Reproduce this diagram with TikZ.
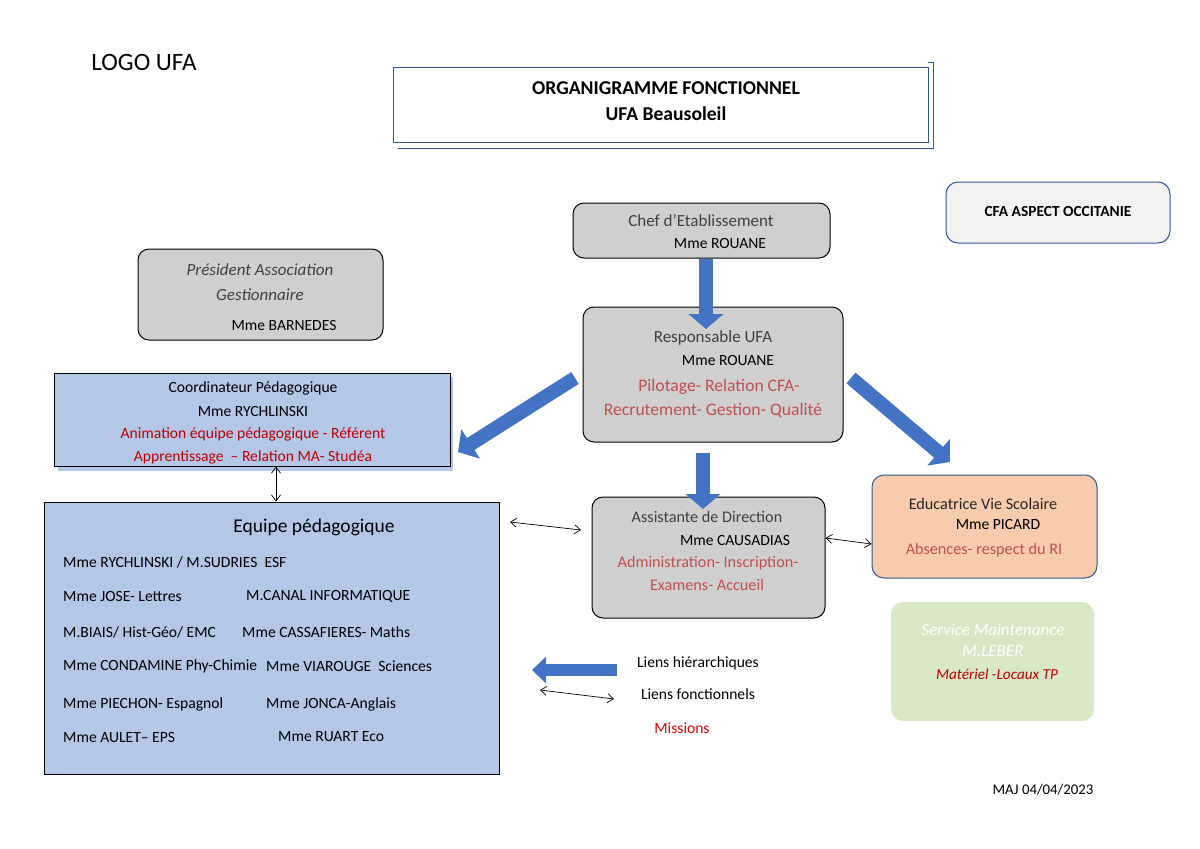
\documentclass[tikz,border=0pt]{standalone}
\usepackage{fontspec}
\setmainfont{Carlito}
\usetikzlibrary{arrows.meta}
\definecolor{boxgray}{HTML}{D0CFD0}
\definecolor{boxblue}{HTML}{B4C7E7}
\definecolor{arrblue}{HTML}{4472C4}
\definecolor{edgeblue}{HTML}{2F5597}
\definecolor{headgray}{HTML}{404040}
\definecolor{fadered}{HTML}{C0504D}
\definecolor{darkred}{HTML}{C00000}
\definecolor{peach}{HTML}{F8CBAD}
\definecolor{palegreen}{HTML}{D8E7C5}
\definecolor{palegray}{HTML}{F2F2F2}
\tikzset{
  graybox/.style={draw=black, line width=1pt, fill=boxgray, rounded corners=11pt, inner sep=0pt},
  bluebox/.style={draw=black, line width=1pt, fill=boxblue, inner sep=0pt},
  txt/.style={inner sep=0pt, anchor=center, font=\fontsize{15.6}{18}\selectfont},
  head/.style={txt, text=headgray, font=\fontsize{17}{20}\selectfont},
  mission/.style={txt, text=fadered, font=\fontsize{17.6}{21}\selectfont},
  redline/.style={txt, text=darkred},
  row/.style={txt, anchor=west},
  blockarrow/.style={draw=arrblue, line width=14pt, -{Triangle[length=15pt,width=34pt]}},
  thinarrow/.style={draw=black, line width=0.7pt, {Straight Barb[length=6pt,width=9pt]}-{Straight Barb[length=6pt,width=9pt]}},
}
\begin{document}
\begin{tikzpicture}[x=1pt,y=-1pt]
\useasboundingbox (0,0) rectangle (1200,849);
% logo
\node[txt, font=\fontsize{25}{29}\selectfont] (logo) at (144,62) {LOGO UFA};
% title
\draw[edgeblue, line width=0.8pt] (398,148) -- (933,148) -- (933,62) -- (928,62);
\node[draw=edgeblue, line width=0.8pt, fill=white, minimum width=535pt, minimum height=75pt, inner sep=0pt] (title) at (660.5,104.5) {};
\node[txt, font=\bfseries\fontsize{19.6}{23}\selectfont] (t1) at (666,88) {ORGANIGRAMME FONCTIONNEL};
\node[txt, font=\bfseries\fontsize{19.6}{23}\selectfont] (t2) at (666,114) {UFA Beausoleil};
% CFA aspect
\node[draw=edgeblue, line width=1pt, fill=palegray, rounded corners=12pt, minimum width=224pt, minimum height=61pt, inner sep=0pt] (cfa) at (1058,212.5) {};
\node[txt, font=\bfseries\fontsize{15.4}{18}\selectfont] (cfat) at (1058,211) {CFA ASPECT OCCITANIE};
% chef
\node[graybox, minimum width=257pt, minimum height=55pt] (chef) at (701.5,230.5) {};
\node[head] (chef1) at (701,221) {Chef d’Etablissement};
\node[txt] (chef2) at (720,243) {Mme ROUANE};
% president
\node[graybox, minimum width=245pt, minimum height=91pt] (pres) at (260.5,294.5) {};
\node[head, font=\itshape\fontsize{17}{20}\selectfont] (pres1) at (260,270) {Président Association};
\node[head, font=\itshape\fontsize{17}{20}\selectfont] (pres2) at (260,295) {Gestionnaire};
\node[txt] (pres3) at (284,325) {Mme BARNEDES};
% responsable
\node[graybox, minimum width=260pt, minimum height=135pt] (resp) at (713,374.5) {};
\node[head] (resp1) at (713,338) {Responsable UFA};
\node[txt] (resp2) at (728,360) {Mme ROUANE};
\node[mission] (resp3) at (719,387) {Pilotage- Relation CFA-};
\node[mission] (resp4) at (713,411) {Recrutement- Gestion- Qualité};
% coordinateur
\fill[boxblue] (58,377) rectangle (453,471);
\node[bluebox, minimum width=396pt, minimum height=93pt] (coord) at (252,419.5) {};
\node[txt] (coord1) at (253,388) {Coordinateur Pédagogique};
\node[txt] (coord2) at (253,411) {Mme RYCHLINSKI};
\node[redline] (coord3) at (253,434) {Animation équipe pédagogique - Référent};
\node[redline] (coord4) at (253,457) {Apprentissage\ \ – Relation MA- Studéa};
% equipe
\node[bluebox, minimum width=455pt, minimum height=272pt] (equipe) at (271.5,638) {};
\node[txt, font=\fontsize{19.5}{23}\selectfont] (eq0) at (314,527) {Equipe pédagogique};
\node[row] (eq1) at (63,562) {Mme RYCHLINSKI / M.SUDRIES\ \ ESF};
\node[row] (eq2a) at (63,596) {Mme JOSE- Lettres};
\node[row] (eq2b) at (246,596) {M.CANAL INFORMATIQUE};
\node[row] (eq3a) at (63,632) {M.BIAIS/ Hist-Géo/ EMC};
\node[row] (eq3b) at (242,632) {Mme CASSAFIERES- Maths};
\node[row] (eq4a) at (63,666) {Mme CONDAMINE Phy-Chimie};
\node[row] (eq4b) at (266,666) {Mme VIAROUGE\ \ Sciences};
\node[row] (eq5a) at (63,704) {Mme PIECHON- Espagnol};
\node[row] (eq5b) at (266,704) {Mme JONCA-Anglais};
\node[row] (eq6a) at (63,737) {Mme AULET– EPS};
\node[row] (eq6b) at (278,737) {Mme RUART Eco};
% assistante
\node[graybox, minimum width=233pt, minimum height=121pt] (assist) at (708.5,557.5) {};
\node[txt, text=headgray, font=\fontsize{16.2}{19}\selectfont] (as1) at (707,517) {Assistante de Direction};
\node[txt] (as2) at (735,540) {Mme CAUSADIAS};
\node[mission, font=\fontsize{16.2}{19}\selectfont] (as3) at (708,563) {Administration- Inscription-};
\node[mission, font=\fontsize{16.2}{19}\selectfont] (as4) at (707,585) {Examens- Accueil};
% educatrice
\node[draw=edgeblue, line width=1pt, fill=peach, rounded corners=12pt, minimum width=225pt, minimum height=103pt, inner sep=0pt] (educ) at (984.5,526.5) {};
\node[txt, text=black!85, font=\fontsize{16.2}{19}\selectfont] (ed1) at (983,504) {Educatrice Vie Scolaire};
\node[txt] (ed2) at (998,524) {Mme PICARD};
\node[txt, text=fadered, font=\fontsize{16.2}{19}\selectfont] (ed3) at (984,550) {Absences- respect du RI};
% maintenance
\node[fill=palegreen, rounded corners=12pt, minimum width=203pt, minimum height=119pt, inner sep=0pt] (maint) at (992.5,661.5) {};
\node[txt, text=white, font=\itshape\fontsize{17}{20}\selectfont] (m1) at (993,630) {Service Maintenance};
\node[txt, text=white, font=\itshape\fontsize{17}{20}\selectfont] (m2) at (993,651) {M.LEBER};
\node[txt, text=darkred, font=\itshape\fontsize{15.2}{18}\selectfont] (m3) at (997,674) {Matériel -Locaux TP};
% block arrows
\draw[blockarrow] (chef.south -| 706,0) -- (706,329);
\draw[blockarrow] (703,453) -- (703,509);
\coordinate (lt) at (575,378);
\coordinate (lh) at (458,452);
\draw[blockarrow] (lt) -- (lh);
\coordinate (rt) at (851,378);
\coordinate (rh) at (950,462);
\draw[blockarrow] (rt) -- (rh);
% thin arrows
\draw[thinarrow] (coord.south -| 276,0) -- (equipe.north -| 276,0);
\coordinate (ea) at (510,522);
\coordinate (eb) at (581,530);
\draw[thinarrow] (ea) -- (eb);
\draw[thinarrow] (assist.east |- 0,538) -- (educ.west |- 0,544);
% legend
\coordinate (lg1a) at (617,670);
\coordinate (lg1b) at (532,670);
\draw[draw=arrblue, line width=12pt, -{Triangle[length=14pt,width=26pt]}] (lg1a) -- (lg1b);
\coordinate (lg2a) at (540,690);
\coordinate (lg2b) at (614,699);
\draw[thinarrow] (lg2a) -- (lg2b);
\node[txt] (lgt1) at (698,663) {Liens hiérarchiques};
\node[txt] (lgt2) at (698,694) {Liens fonctionnels};
\node[txt, text=red!90!black] (lgt3) at (682,728) {Missions};
% date
\node[txt, font=\fontsize{14.8}{17}\selectfont] (maj) at (1043,790) {MAJ 04/04/2023};
\end{tikzpicture}
\end{document}
